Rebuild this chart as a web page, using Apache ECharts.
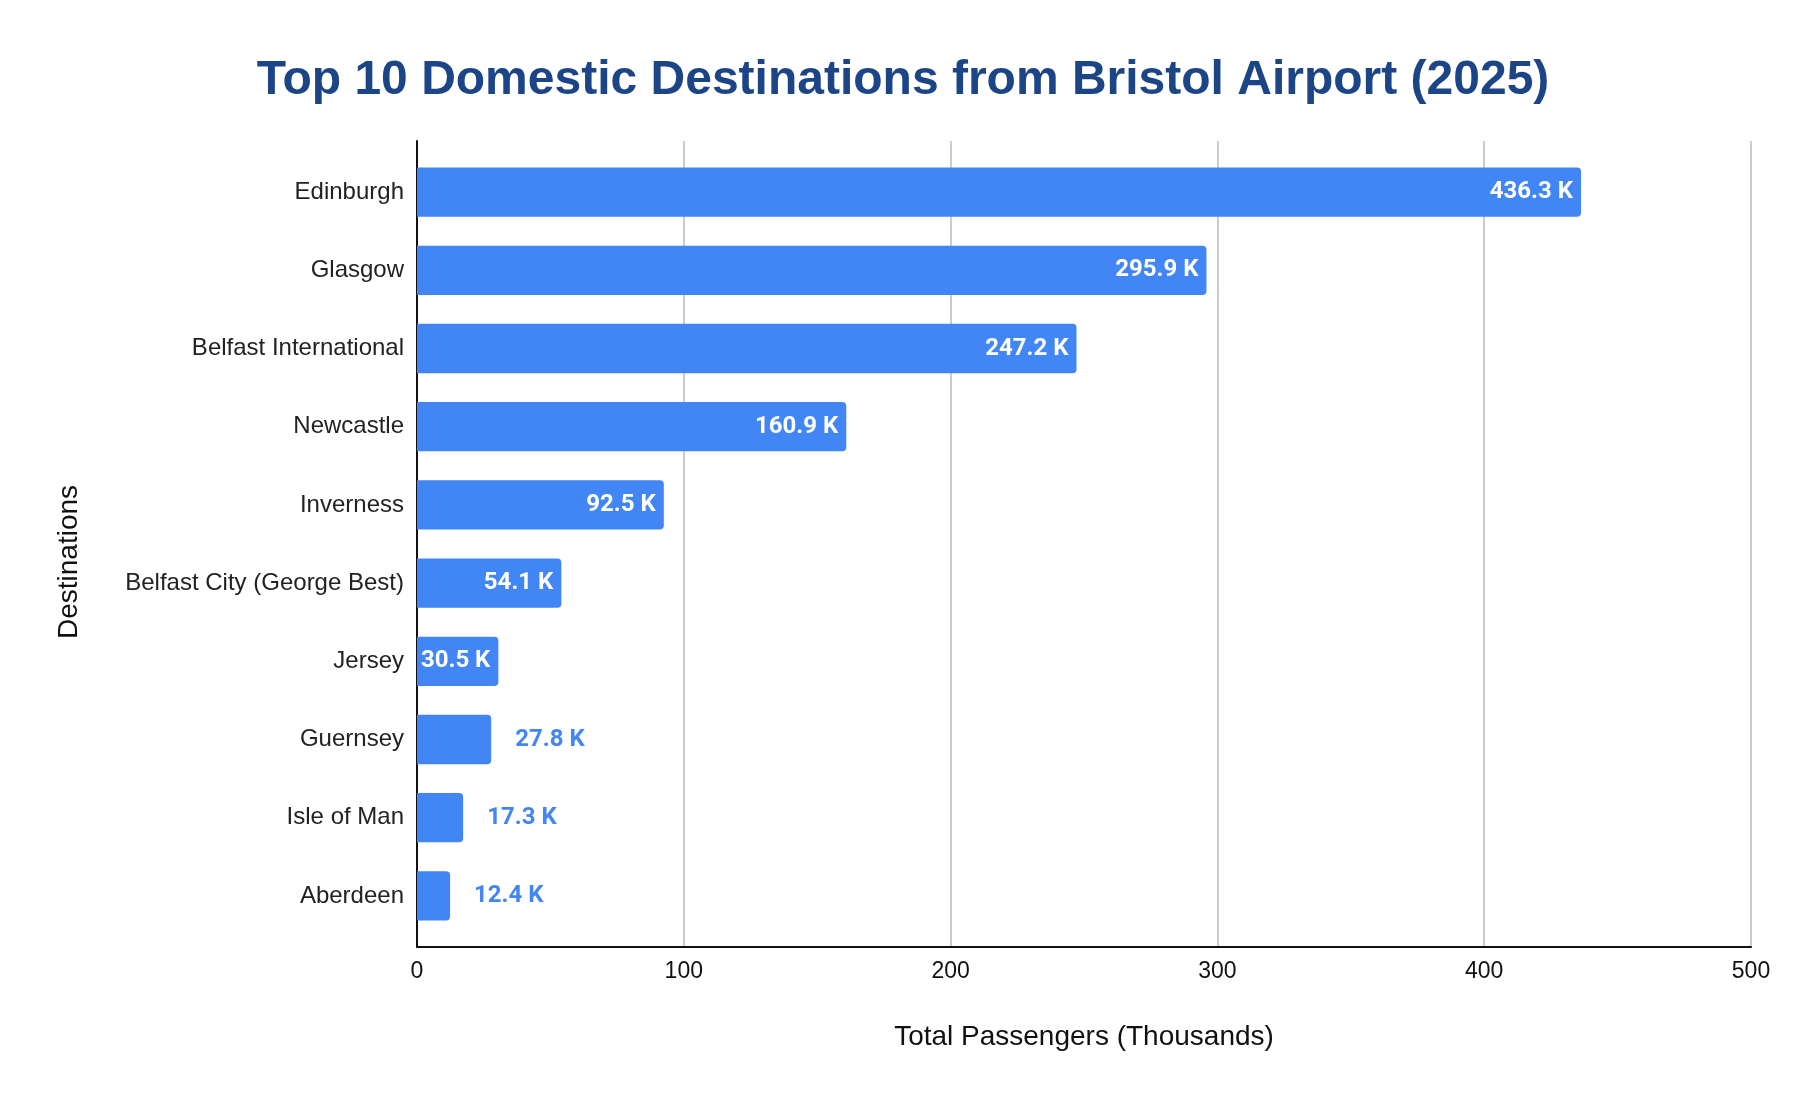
<!DOCTYPE html>
<html>
<head>
<meta charset="utf-8">
<title>Top 10 Domestic Destinations from Bristol Airport (2025)</title>
<script src="https://cdn.jsdelivr.net/npm/echarts@6/dist/echarts.min.js"></script>
<style>
  html, body { margin: 0; padding: 0; background: #ffffff; }
  #chart { width: 1806px; height: 1108px; }
</style>
</head>
<body>
<div id="chart"></div>
<script>
// destinations, top to bottom
const destinations = [
  'Edinburgh', 'Glasgow', 'Belfast International', 'Newcastle', 'Inverness',
  'Belfast City (George Best)', 'Jersey', 'Guernsey', 'Isle of Man', 'Aberdeen'
];
// total passengers, thousands
const passengers = [436.3, 295.9, 247.2, 160.9, 92.5, 54.1, 30.5, 27.8, 17.3, 12.4];
const xTicks = [0, 100, 200, 300, 400, 500];

const barBlue = '#4285f4';
const sans = '"Liberation Sans", Arial, sans-serif';

// bars too short for the label get it outside, in bar colour
const barData = passengers.map(v => {
  if (v >= 30) return v;
  return {
    value: v,
    label: { position: 'right', distance: 24, color: barBlue }
  };
});

const chart = echarts.init(document.getElementById('chart'));

chart.setOption({
  backgroundColor: '#ffffff',
  animation: false,
  title: {
    text: 'Top 10 Domestic Destinations from Bristol Airport (2025)',
    left: 'center',
    top: 52,
    textStyle: {
      color: '#1c4587',
      fontSize: 48,
      fontWeight: 'bold',
      fontFamily: sans
    }
  },
  // grid 0 = frame with gridlines, grid 1 = the bars (slightly inset top/bottom)
  grid: [
    { left: 417, right: 55, top: 141, bottom: 161 },
    { left: 417, right: 55, top: 153, bottom: 173 }
  ],
  xAxis: [
    {
      type: 'value',
      gridIndex: 0,
      min: xTicks[0],
      max: xTicks[xTicks.length - 1],
      interval: 100,
      name: 'Total Passengers (Thousands)',
      nameLocation: 'middle',
      nameGap: 76,
      nameTextStyle: { color: '#111', fontSize: 28, fontFamily: sans },
      axisLine: { show: true, lineStyle: { color: '#111', width: 2 } },
      axisTick: { show: false },
      axisLabel: { color: '#111', fontSize: 23, fontFamily: sans, margin: 13 },
      splitLine: { show: true, lineStyle: { color: '#cccccc', width: 2 } }
    },
    {
      type: 'value',
      gridIndex: 1,
      min: xTicks[0],
      max: xTicks[xTicks.length - 1],
      show: false
    }
  ],
  yAxis: [
    {
      type: 'value',
      gridIndex: 0,
      min: 0,
      max: 1,
      axisLine: { show: true, lineStyle: { color: '#111', width: 2 } },
      axisTick: { show: false },
      axisLabel: { show: false },
      splitLine: { show: false }
    },
    {
      type: 'category',
      gridIndex: 1,
      data: destinations,
      inverse: true,
      axisLine: { show: false },
      axisTick: { show: false },
      axisLabel: {
        color: '#222',
        fontSize: 24,
        fontFamily: sans,
        margin: 13,
        padding: [5, 0, 0, 0]
      }
    }
  ],
  graphic: [
    {
      type: 'text',
      rotation: Math.PI / 2,
      style: {
        text: 'Destinations',
        fill: '#111',
        font: '28px ' + sans,
        align: 'center',
        verticalAlign: 'middle'
      },
      position: [69, 562],
      z: 10
    }
  ],
  series: [
    {
      type: 'bar',
      xAxisIndex: 1,
      yAxisIndex: 1,
      data: barData,
      barCategoryGap: '37%',
      itemStyle: { color: barBlue, borderRadius: [0, 4, 4, 0] },
      label: {
        show: true,
        position: 'insideRight',
        distance: 8,
        color: '#ffffff',
        fontSize: 24,
        fontWeight: 'bold',
        fontFamily: 'Roboto, "Noto Sans", sans-serif',
        formatter: p => p.value.toFixed(1) + ' K'
      }
    }
  ]
});
</script>
</body>
</html>
